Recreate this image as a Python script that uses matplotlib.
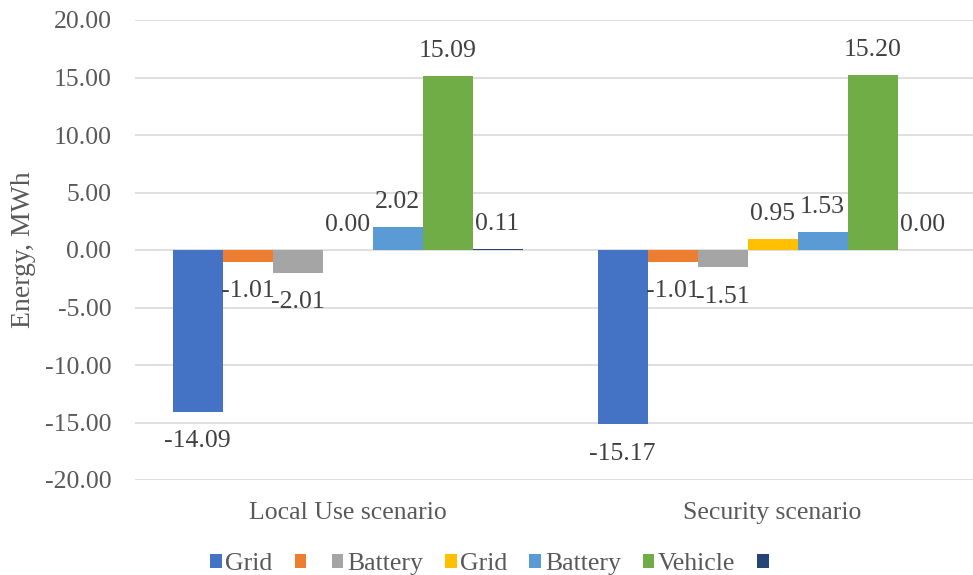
import matplotlib
matplotlib.use("Agg")
import matplotlib.pyplot as plt
import numpy as np

plt.rcParams['font.family'] = ['Liberation Serif', 'DejaVu Serif']

categories = ["Local Use scenario", "Security scenario"]
series_labels = ["Grid", "", "Battery", "Grid", "Battery", "Vehicle", ""]
series_colors = ["#4472C4", "#ED7D31", "#A5A5A5", "#FFC000", "#5B9BD5", "#70AD47", "#264478"]
values = [
    [-14.09, -15.17],
    [-1.01, -1.01],
    [-2.01, -1.51],
    [0.00, 0.95],
    [2.02, 1.53],
    [15.09, 15.20],
    [0.11, 0.00],
]
y_ticks = [-20, -15, -10, -5, 0, 5, 10, 15, 20]

W, H = 973, 575
fig = plt.figure(figsize=(W / 100, H / 100), dpi=100)
ax = fig.add_axes([135 / W, 95 / H, 850 / W, 460 / H])

n = len(values)
bw = 1 / 8.5
x = np.arange(len(categories))
text_col = "#595959"
fs = 18.5

handles = []
for i, (vals, col) in enumerate(zip(values, series_colors)):
    xs = x + (i - (n - 1) / 2) * bw
    bars = ax.bar(xs, vals, width=bw, color=col, zorder=3)
    handles.append(bars)
    for xi, v in zip(xs, vals):
        off = 18 if v >= 0 else -21
        ax.annotate(f"{v:.2f}", (xi, v), xytext=(0, off), textcoords="offset points",
                    ha="center", va="center", fontsize=fs, color="#404040", zorder=4)

ax.set_xlim(-0.5, 1.5)
ax.set_ylim(-20, 20)
ax.set_yticks(y_ticks)
ax.set_yticklabels([f"{t:.2f}" for t in y_ticks])
ax.set_xticks(x)
ax.set_xticklabels(categories)
ax.tick_params(axis="y", length=0, pad=17, labelsize=fs, labelcolor=text_col)
ax.tick_params(axis="x", length=0, pad=16, labelsize=fs, labelcolor=text_col)
ax.grid(axis="y", color="#D9D9D9", linewidth=1.2, zorder=0)
for s in ax.spines.values():
    s.set_visible(False)
ax.set_ylabel("Energy, MWh", fontsize=20, color=text_col, labelpad=6)

fig.legend(handles, series_labels, loc="center", bbox_to_anchor=(0.505, 0.019), ncol=7,
           frameon=False, fontsize=fs, labelcolor=text_col, handlelength=0.45,
           handleheight=0.45, handletextpad=0.15, columnspacing=0.85)

fig.savefig("out.png", dpi=100)
